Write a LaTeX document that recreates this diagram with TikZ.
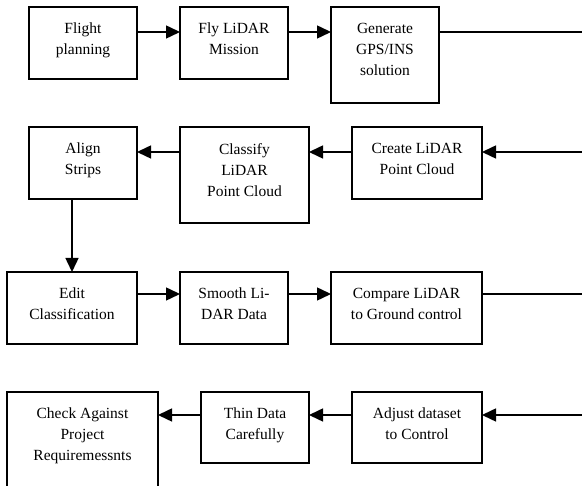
\documentclass[tikz,border=0pt]{standalone}
\usepackage{fontspec}
\setmainfont{Liberation Serif}
\usetikzlibrary{arrows.meta}

\tikzset{
  stage/.style={draw, line width=1.6pt, anchor=north west, inner sep=0pt, outer sep=0pt},
  caption/.style={anchor=north, inner sep=0pt, align=center,
                  font=\fontsize{15.5}{21}\selectfont},
  flow/.style={line width=1.5pt, -{Triangle[length=14pt,width=13pt]}},
  wrap/.style={line width=1.5pt}
}

% a process box: name, top-left x, top-left y, width, height, text
\newcommand{\stagebox}[6]{%
  \node[stage, minimum width=#4pt, minimum height=#5pt] (#1) at (#2,#3) {};
  \node[caption] (#1-t) at ([yshift=-16pt]#1.north) {#6};
}

\begin{document}
\begin{tikzpicture}[x=1pt, y=-1pt]
\useasboundingbox (0,0) rectangle (582,486);
\clip (0,0) rectangle (582,486);

% row 1
\stagebox{fp}{29}{7}{108}{72}{Flight\\planning}
\stagebox{fly}{180}{7}{108}{72}{Fly LiDAR\\Mission}
\stagebox{gen}{331}{7}{108}{96}{Generate\\GPS/INS\\solution}

% row 2
\stagebox{align}{29}{127}{108}{72}{Align\\Strips}
\stagebox{cls}{180}{127}{129}{96}{Classify\\LiDAR\\Point Cloud}
\stagebox{create}{352}{127}{130}{72}{Create LiDAR\\Point Cloud}

% row 3
\stagebox{edit}{7}{272}{130}{72}{Edit\\Classification}
\stagebox{smooth}{180}{272}{108}{72}{Smooth Li-\\DAR Data}
\stagebox{cmp}{331}{272}{151}{72}{Compare LiDAR\\to Ground control}

% row 4
\stagebox{check}{7}{392}{151}{110}{Check Against\\Project\\Requiremessnts}
\stagebox{thin}{201}{392}{108}{71}{Thin Data\\Carefully}
\stagebox{adjust}{352}{392}{130}{71}{Adjust dataset\\to Control}

% loose ends at the right margin, where each row continues into the next
\coordinate (e1) at (583,32);
\coordinate (e2) at (583,152);
\coordinate (e3) at (583,294);
\coordinate (e4) at (583,415);

% row 1 connectors
\draw[flow] (fp.east |- e1) -- (fly.west |- e1);
\draw[flow] (fly.east |- e1) -- (gen.west |- e1);
\draw[wrap] (gen.east |- e1) -- (e1);

% row 2 connectors
\draw[flow] (e2) -- (create.east |- e2);
\draw[flow] (create.west |- e2) -- (cls.east |- e2);
\draw[flow] (cls.west |- e2) -- (align.east |- e2);

% down to row 3
\draw[flow] (edit.north |- align.south) -- (edit.north);

% row 3 connectors
\draw[flow] (edit.east |- e3) -- (smooth.west |- e3);
\draw[flow] (smooth.east |- e3) -- (cmp.west |- e3);
\draw[wrap] (cmp.east |- e3) -- (e3);

% row 4 connectors
\draw[flow] (e4) -- (adjust.east |- e4);
\draw[flow] (adjust.west |- e4) -- (thin.east |- e4);
\draw[flow] (thin.west |- e4) -- (check.east |- e4);
\end{tikzpicture}
\end{document}
